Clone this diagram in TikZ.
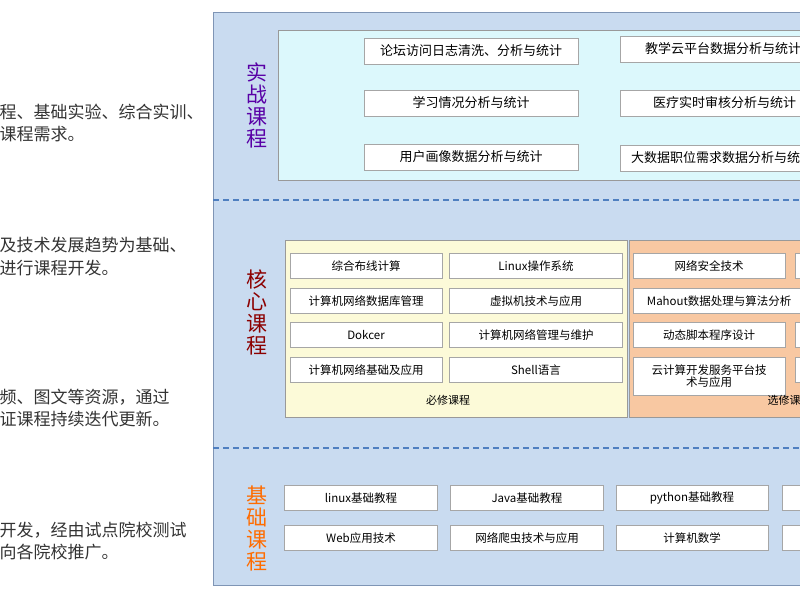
\documentclass[tikz,border=0pt]{standalone}
\usepackage{fontspec}
\setmainfont{Noto Sans CJK SC}
\usetikzlibrary{positioning}
\definecolor{panelblue}{HTML}{C9DBF0}
\definecolor{panelline}{HTML}{7F95B5}
\definecolor{cyanbox}{HTML}{DCF8FC}
\definecolor{yellowbox}{HTML}{FCFAD8}
\definecolor{orangebox}{HTML}{F8C8A2}
\definecolor{dashblue}{HTML}{4F7FC0}
\begin{document}
\begin{tikzpicture}[x=1pt, y=-1pt,
        kurs/.style={draw=gray!70, fill=white, font=\fontsize{11.5}{12}\selectfont, inner sep=1pt, align=center},
        bigkurs/.style={kurs, font=\fontsize{13}{14}\selectfont},
        zone/.style={draw=gray!80},
        seclabel/.style={font=\fontsize{21}{22}\selectfont, align=center},
        sidetext/.style={anchor=west, font=\fontsize{17}{18}\selectfont, text=black!80},
    ]
    \useasboundingbox (0,0) rectangle (800,600);
    \clip (0,0) rectangle (800,600);

    % left text lines
    \node[sidetext] (t1a) at (-4,112) {程、基础实验、综合实训、};
    \node[sidetext] (t1b) at (-4,134) {课程需求。};
    \node[sidetext] (t2a) at (-4,245) {及技术发展趋势为基础、};
    \node[sidetext] (t2b) at (-4,268) {进行课程开发。};
    \node[sidetext] (t3a) at (-4,397) {频、图文等资源，通过};
    \node[sidetext] (t3b) at (-4,419) {证课程持续迭代更新。};
    \node[sidetext] (t4a) at (-4,530) {开发，经由试点院校测试};
    \node[sidetext] (t4b) at (-4,552) {向各院校推广。};

    % outer panel
    \draw[panelline, fill=panelblue, line width=0.8pt] (213,12) rectangle (830,585);
    \draw[dashblue, line width=1.2pt, dash pattern=on 6pt off 4pt] (213,200) -- (800,200);
    \draw[dashblue, line width=1.2pt, dash pattern=on 6pt off 4pt] (213,448) -- (800,448);

    % section labels
    \node[seclabel, text=violet!70!blue] (shizhan) at (257,105) {实\\战\\课\\程};
    \node[seclabel, text=red!55!black] (hexin) at (257,312) {核\\心\\课\\程};
    \node[seclabel, text=orange!85!red] (jichu) at (257,528) {基\\础\\课\\程};

    % practice courses
    \draw[zone, fill=cyanbox] (278,30) rectangle (830,180);
    \node[bigkurs, minimum width=214pt, minimum height=26pt] (p1) at (471,51) {论坛访问日志清洗、分析与统计};
    \node[bigkurs, minimum width=214pt, minimum height=26pt] (p2) at (471,103) {学习情况分析与统计};
    \node[bigkurs, minimum width=214pt, minimum height=26pt] (p3) at (471,157) {用户画像数据分析与统计};
    \node[bigkurs, minimum width=200pt, minimum height=26pt, anchor=west, align=left, text width=194pt] (p4) at (620,49) {\hspace*{22pt}教学云平台数据分析与统计};
    \node[bigkurs, minimum width=200pt, minimum height=26pt, anchor=west, align=left, text width=194pt] (p5) at (620,103) {\hspace*{30pt}医疗实时审核分析与统计};
    \node[bigkurs, minimum width=200pt, minimum height=26pt, anchor=west, align=left, text width=194pt] (p6) at (620,158) {\hspace*{8pt}大数据职位需求数据分析与统计};

    % core courses, compulsory
    \draw[zone, fill=yellowbox] (285,240) rectangle (627,417);
    \node[kurs, minimum width=152pt, minimum height=25pt] (c1) at (366,266) {综合布线计算};
    \node[kurs, minimum width=152pt, minimum height=25pt] (c2) at (366,301) {计算机网络数据库管理};
    \node[kurs, minimum width=152pt, minimum height=25pt] (c3) at (366,335) {Dokcer};
    \node[kurs, minimum width=152pt, minimum height=25pt] (c4) at (366,370) {计算机网络基础及应用};
    \node[kurs, minimum width=173pt, minimum height=25pt] (c5) at (536,266) {Linux操作系统};
    \node[kurs, minimum width=173pt, minimum height=25pt] (c6) at (536,301) {虚拟机技术与应用};
    \node[kurs, minimum width=173pt, minimum height=25pt] (c7) at (536,335) {计算机网络管理与维护};
    \node[kurs, minimum width=173pt, minimum height=25pt] (c8) at (536,370) {Shell语言};
    \node[font=\fontsize{11}{12}\selectfont] (bixiu) at (448,400) {必修课程};

    % core courses, elective
    \draw[zone, fill=orangebox] (629,240) rectangle (830,417);
    \node[kurs, minimum width=152pt, minimum height=25pt] (e1) at (709,266) {网络安全技术};
    \node[kurs, minimum width=172pt, minimum height=25pt, anchor=west] (e2) at (633,301) {Mahout数据处理与算法分析};
    \node[kurs, minimum width=152pt, minimum height=25pt] (e3) at (709,335) {动态脚本程序设计};
    \node[kurs, minimum width=152pt, minimum height=38pt] (e4) at (709,376) {云计算开发服务平台技\\术与应用};
    \node[kurs, minimum width=30pt, minimum height=25pt, anchor=west] (e5) at (795,266) {};
    \node[kurs, minimum width=30pt, minimum height=25pt, anchor=west] (e6) at (795,335) {};
    \node[kurs, minimum width=30pt, minimum height=25pt, anchor=west] (e7) at (795,370) {};
    \node[font=\fontsize{11}{12}\selectfont, anchor=west] (xuanxiu) at (764,400) {选修课程};

    % basic courses
    \node[kurs, minimum width=153pt, minimum height=25pt] (b1) at (361,498) {linux基础教程};
    \node[kurs, minimum width=153pt, minimum height=25pt] (b2) at (527,498) {Java基础教程};
    \node[kurs, minimum width=152pt, minimum height=25pt] (b3) at (692,498) {python基础教程};
    \node[kurs, minimum width=60pt, minimum height=25pt, anchor=west] (b4) at (782,498) {};
    \node[kurs, minimum width=153pt, minimum height=25pt] (b5) at (361,538) {Web应用技术};
    \node[kurs, minimum width=153pt, minimum height=25pt] (b6) at (527,538) {网络爬虫技术与应用};
    \node[kurs, minimum width=152pt, minimum height=25pt] (b7) at (692,538) {计算机数学};
    \node[kurs, minimum width=60pt, minimum height=25pt, anchor=west] (b8) at (782,538) {};
\end{tikzpicture}
\end{document}
